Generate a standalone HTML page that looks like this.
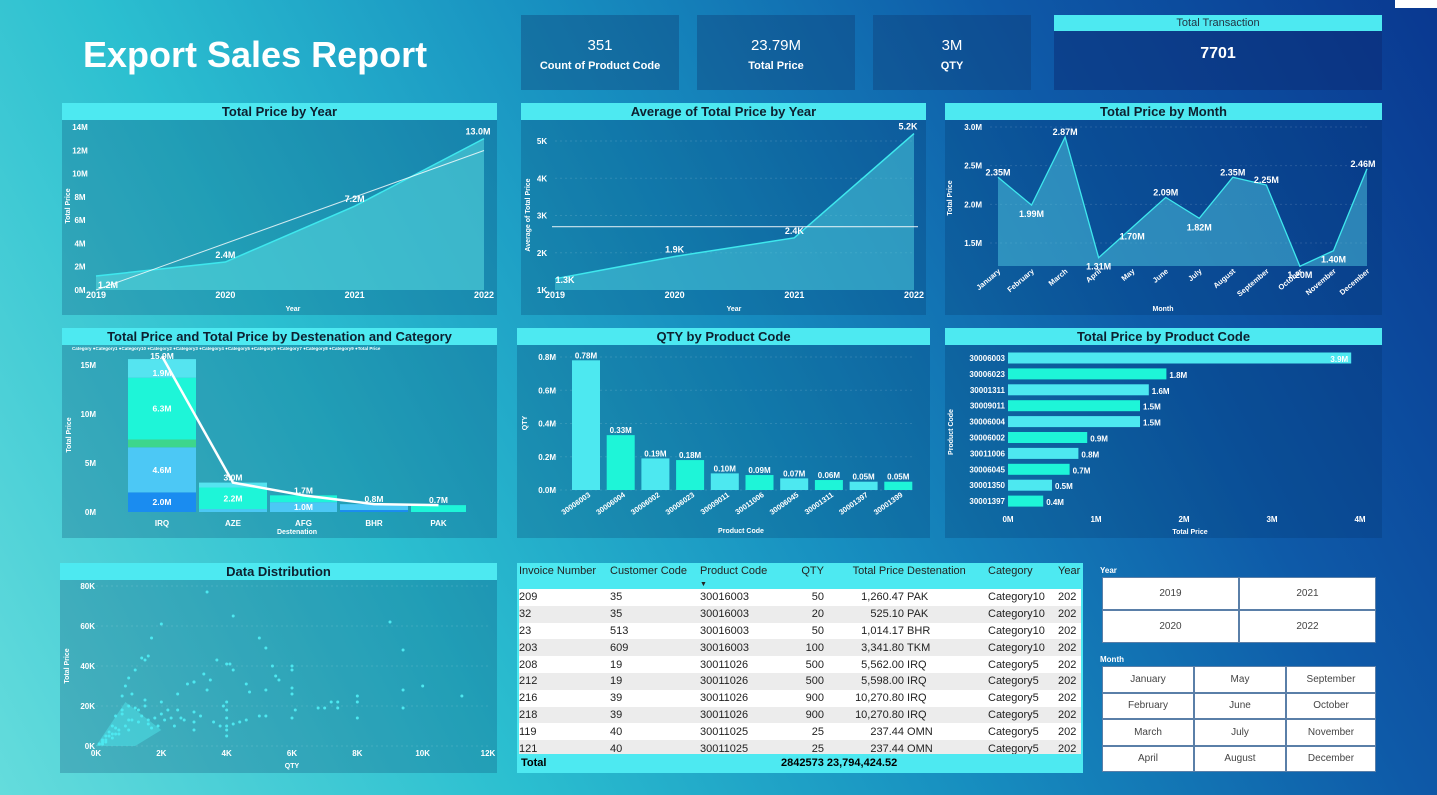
<!DOCTYPE html>
<html><head><meta charset="utf-8"><style>
*{margin:0;padding:0;box-sizing:border-box}
body{width:1437px;height:795px;overflow:hidden;position:relative;font-family:"Liberation Sans",sans-serif;
background:linear-gradient(62deg,#64dcdc 0%,#2bbfd0 28%,#178fc0 52%,#0e5aa8 76%,#0a3890 100%);}
.abs{position:absolute}
.panel{position:absolute;background:rgba(0,40,90,0.22)}
.ph{position:absolute;left:0;right:0;top:0;height:17px;background:#4de9f1;color:#0d2030;font-weight:bold;font-size:13px;text-align:center;line-height:17px}
.card{position:absolute;background:rgba(15,55,110,0.35);color:#fff;text-align:center}
.card .v{font-size:15px;margin-top:22px}
.card .l{font-size:11px;font-weight:bold;margin-top:6px}
svg{position:absolute;left:0;top:0;overflow:visible}
svg text{font-family:"Liberation Sans",sans-serif}
table{border-collapse:collapse;font-size:11px;color:#222;table-layout:fixed;white-space:nowrap}
td{overflow:hidden}
.slic{position:absolute;display:grid;background:#5a7fa8;gap:2px;padding:1px}
.slic div{background:#fff;color:#444;font-size:10px;display:flex;align-items:center;justify-content:center}
</style></head><body>
<div class="abs" style="left:1395px;top:0;width:42px;height:8px;background:#fff"></div>
<div class="abs" style="left:83px;top:34px;color:#fff;font-size:36px;font-weight:bold">Export Sales Report</div>

<div class="card" style="left:521px;top:15px;width:158px;height:75px"><div class="v">351</div><div class="l">Count of Product Code</div></div>
<div class="card" style="left:697px;top:15px;width:158px;height:75px"><div class="v">23.79M</div><div class="l">Total Price</div></div>
<div class="card" style="left:873px;top:15px;width:158px;height:75px"><div class="v">3M</div><div class="l">QTY</div></div>
<div class="card" style="left:1054px;top:15px;width:328px;height:75px;background:rgba(10,40,110,0.45)">
<div style="background:#4de9f1;color:#234;font-size:11px;height:16px;line-height:16px">Total Transaction</div>
<div style="font-size:16px;font-weight:bold;margin-top:14px">7701</div></div>

<div class="panel" style="left:62px;top:103px;width:435px;height:212px"><div class="ph">Total Price by Year</div></div>
<div class="panel" style="left:521px;top:103px;width:405px;height:212px"><div class="ph">Average of Total Price by Year</div></div>
<div class="panel" style="left:945px;top:103px;width:437px;height:212px"><div class="ph">Total Price by Month</div></div>
<div class="panel" style="left:62px;top:328px;width:435px;height:210px"><div class="ph">Total Price and Total Price by Destenation and Category</div></div>
<div class="panel" style="left:517px;top:328px;width:413px;height:210px"><div class="ph">QTY by Product Code</div></div>
<div class="panel" style="left:945px;top:328px;width:437px;height:210px"><div class="ph">Total Price by Product Code</div></div>
<div class="panel" style="left:60px;top:563px;width:437px;height:210px"><div class="ph">Data Distribution</div></div>

<div class="abs" style="left:517px;top:563px;width:566px;height:210px;background:#fff;overflow:hidden;border:2px solid #4de9f1">
<table style="width:582px">
<colgroup><col style="width:91px"><col style="width:90px"><col style="width:90px"><col style="width:34px"><col style="width:80px"><col style="width:84px"><col style="width:70px"><col style="width:43px"></colgroup>
<tr style="background:#4de9f1;height:21px;vertical-align:top"><td>Invoice Number</td><td>Customer Code</td><td>Product Code<br><span style="font-size:7px">▼</span></td><td style="text-align:right">QTY</td><td style="text-align:right">Total Price</td><td>&nbsp;Destenation</td><td>Category</td><td>Year</td></tr>
<tbody id="tb"></tbody>
</table>
<div style="position:absolute;left:0;top:189px;width:566px;height:18px;background:#4de9f1;font-size:11px;font-weight:bold;line-height:18px"><span style="margin-left:2px">Total</span><span style="position:absolute;left:262px">2842573 23,794,424.52</span></div>
</div>

<div class="abs" style="left:1100px;top:566px;color:#fff;font-size:8px;font-weight:bold">Year</div>
<div class="slic" style="left:1102px;top:577px;width:274px;height:66px;grid-template-columns:1fr 1fr">
<div>2019</div><div>2021</div><div>2020</div><div>2022</div></div>
<div class="abs" style="left:1100px;top:655px;color:#fff;font-size:8px;font-weight:bold">Month</div>
<div class="slic" style="left:1102px;top:666px;width:274px;height:106px;grid-template-columns:90px 90px 1fr">
<div>January</div><div>May</div><div>September</div>
<div>February</div><div>June</div><div>October</div>
<div>March</div><div>July</div><div>November</div>
<div>April</div><div>August</div><div>December</div></div>

<svg id="chart" width="1437" height="795"></svg>

<script>
// ---- data ----
const years = ['2019','2020','2021','2022'];
const yearTotals = [1.2, 2.4, 7.2, 13.0];
const yearTotalTicks = [0,2,4,6,8,10,12,14];
const yearAvg = [1.3, 1.9, 2.4, 5.2];
const yearAvgTicks = [1,2,3,4,5];
const yearAvgLine = 2.7;
const months = ['January','February','March','April','May','June','July','August','September','October','November','December'];
const monthTotals = [2.35,1.99,2.87,1.31,1.70,2.09,1.82,2.35,2.25,1.20,1.40,2.46];
const monthTicks = [1.5,2.0,2.5,3.0];
const destinations = ['IRQ','AZE','AFG','BHR','PAK'];
const destCategories = ['Category5','Category4','Category7','Category10','Category1'];
const destStackIRQ = [2.0, 4.6, 0.8, 6.3, 1.9];
const destStackAZE = [0.0, 0.3, 0.0, 2.2, 0.5];
const destStackAFG = [0.0, 1.0, 0.0, 0.7, 0.0];
const destStackBHR = [0.2, 0.6, 0.0, 0.0, 0.0];
const destStackPAK = [0.0, 0.0, 0.0, 0.7, 0.0];
const destTotals = [15.9, 3.0, 1.7, 0.8, 0.7];
const destTicks = [0,5,10,15];
const qtyCodes = ['30006003','30006004','30006002','30006023','30009011','30011006','30006045','30001311','30001397','30001399'];
const qtyValues = [0.78,0.33,0.19,0.18,0.10,0.09,0.07,0.06,0.05,0.05];
const qtyTicks = [0,0.2,0.4,0.6,0.8];
const priceCodes = ['30006003','30006023','30001311','30009011','30006004','30006002','30011006','30006045','30001350','30001397'];
const priceValues = [3.9,1.8,1.6,1.5,1.5,0.9,0.8,0.7,0.5,0.4];
const priceTicks = [0,1,2,3,4];
const scatterQty = [3.4,4.2,2.0,9.0,1.7,5.0,9.4,5.2,1.4,1.5,1.6,3.7,4.0,4.1,5.4,6.0,6.0,1.2,2.5,3.0,3.3,3.5,4.2,5.5,5.6,10.0,9.4,6.0,6.0,1.0,0.9,0.8,1.1,2.8,3.0,4.6,4.7,5.2,11.2,8.0,8.0,7.4,7.2,7.4,6.8,7.0,6.1,5.0,5.2,6.0,9.4,8.0,3.9,4.0,4.0,4.0,4.0,4.0,4.0,4.6,4.4,4.2,3.0,3.0,3.0,2.6,2.4,2.2,2.0,2.0,1.8,1.6,1.4,1.2,1.0,1.0,0.8,0.6,0.5,0.4,0.3,0.2,0.1,0.6,0.8,1.3,1.6,1.9,2.3,2.7,3.2,3.6,3.8,0.5,0.7,0.9,1.1,1.3,1.5,1.7,2.1,0.3,0.2,0.4,0.6,0.2,0.1,0.3,0.5,2.5,3.4,1.0,1.5,0.7];
const scatterPrice = [77,65,61,62,54,54,48,49,44,43,45,43,41,41,40,40,38,38,26,32,36,33,38,35,33,30,28,29,26,34,30,25,26,31,32,31,27,28,25,25,22,22,22,19,19,19,18,15,15,14,19,14,20,22,18,14,10,8,5,13,12,11,17,12,8,14,10,18,22,16,14,11,15,19,20,13,16,9,10,7,5,3,1,15,18,12,13,10,14,13,15,12,10,6,8,10,13,18,20,9,13,3,2,5,6,1,1,2,4,18,28,8,23,6];
const tableRows = [
['209','35','30016003','50','1,260.47','PAK','Category10','202'],
['32','35','30016003','20','525.10','PAK','Category10','202'],
['23','513','30016003','50','1,014.17','BHR','Category10','202'],
['203','609','30016003','100','3,341.80','TKM','Category10','202'],
['208','19','30011026','500','5,562.00','IRQ','Category5','202'],
['212','19','30011026','500','5,598.00','IRQ','Category5','202'],
['216','39','30011026','900','10,270.80','IRQ','Category5','202'],
['218','39','30011026','900','10,270.80','IRQ','Category5','202'],
['119','40','30011025','25','237.44','OMN','Category5','202'],
['121','40','30011025','25','237.44','OMN','Category5','202']];

// ---- table ----
const tb=document.getElementById('tb');
tableRows.forEach((r,i)=>{
 const tr=document.createElement('tr');
 
 
 tr.style.background=i%2?'#ececec':'#fff';tr.style.height='16.8px';
 r.forEach((c,j)=>{const td=document.createElement('td');td.textContent=(j==5?'\u00a0':'')+c;if(j==3||j==4)td.style.textAlign='right';tr.appendChild(td);});
 tb.appendChild(tr);
});

// ---- svg helpers ----
const S=document.getElementById('chart');const NS='http://www.w3.org/2000/svg';
function el(tag,attrs,name,txt){const e=document.createElementNS(NS,tag);for(const k in attrs)e.setAttribute(k,attrs[k]);
 
 
 if(txt!==undefined)e.textContent=txt;S.appendChild(e);return e;}
function txt(x,y,t,name,o={}){return el('text',Object.assign({x:x,y:y,fill:'#fff','font-size':o.fs||9,'font-weight':o.fw||'bold','text-anchor':o.a||'middle'},o.extra||{}),name,t);}
function lin(d0,d1,r0,r1){return v=>r0+(v-d0)/(d1-d0)*(r1-r0);}
function grid(x0,x1,y,name){el('line',{x1:x0,x2:x1,y1:y,y2:y,stroke:'rgba(255,255,255,0.12)','stroke-dasharray':'2,3'},name);}

// Chart 1: total price by year
(function(){
 const x=lin(0,3,96,484), y=lin(0,14,290,127);
 yearTotalTicks.forEach(t=>{txt(80,y(t)+3,t+'M','y-tick-label',{fs:8});});
 let d='M'+x(0)+','+y(0);yearTotals.forEach((v,i)=>d+=' L'+x(i)+','+y(v));d+=' L'+x(3)+','+y(0)+'Z';
 el('path',{d:d,fill:'rgba(90,220,225,0.55)'},'area-total-price');
 el('polyline',{points:yearTotals.map((v,i)=>x(i)+','+y(v)).join(' '),fill:'none',stroke:'#3ee8ee','stroke-width':1.5},'line-total-price');
 const n=yearTotals.length,mx=(n-1)/2,my=yearTotals.reduce((a,b)=>a+b)/n;let sxy=0,sxx=0;yearTotals.forEach((v,i)=>{sxy+=(i-mx)*(v-my);sxx+=(i-mx)*(i-mx);});
 const sl=sxy/sxx,ic=my-sl*mx;
 el('line',{x1:x(0),y1:y(Math.max(0,ic)),x2:x(3),y2:y(ic+sl*3),stroke:'rgba(255,255,255,0.8)','stroke-width':1},'trend-line');
 yearTotals.forEach((v,i)=>txt(x(i)+(i==0?12:i==3?-6:0),y(v)+(i==0?12:-4),v.toFixed(1)+'M','data-label',{fs:9}));
 years.forEach((t,i)=>txt(x(i),298,t,'x-tick-label',{fs:9}));
 txt(293,311,'Year','x-axis-title',{fs:7});
 txt(0,0,'Total Price','y-axis-title',{fs:7,extra:{transform:'translate(70,206) rotate(-90)'}});
})();

// Chart 2: average by year
(function(){
 const x=lin(0,3,555,914), y=lin(1,5,290,141);
 yearAvgTicks.forEach(t=>{if(t>1)grid(555,914,y(t),'grid-line');txt(542,y(t)+3,t+'K','y-tick-label',{fs:8});});
 let d='M'+x(0)+','+y(1);yearAvg.forEach((v,i)=>d+=' L'+x(i)+','+y(v));d+=' L'+x(3)+','+y(1)+'Z';
 el('path',{d:d,fill:'rgba(80,210,225,0.5)'},'area-average-price');
 el('polyline',{points:yearAvg.map((v,i)=>x(i)+','+y(v)).join(' '),fill:'none',stroke:'#3ee8ee','stroke-width':1.5},'line-average-price');
 el('line',{x1:552,x2:918,y1:y(yearAvgLine),y2:y(yearAvgLine),stroke:'rgba(255,255,255,0.8)','stroke-width':1.2},'average-line');
 yearAvg.forEach((v,i)=>txt(x(i)+(i==0?10:i==3?-6:0),y(v)+(i==0?-6+10:-4),v.toFixed(1)+'K','data-label',{fs:9}));
 years.forEach((t,i)=>txt(x(i),298,t,'x-tick-label',{fs:9}));
 txt(734,311,'Year','x-axis-title',{fs:7});
 txt(0,0,'Average of Total Price','y-axis-title',{fs:7,extra:{transform:'translate(530,215) rotate(-90)'}});
})();

// Chart 3: by month
(function(){
 const x=lin(0,11,998,1367), y=lin(1.5,3.0,243,127), base=266;
 monthTicks.forEach(t=>{grid(990,1370,y(t),'grid-line');txt(982,y(t)+3,t.toFixed(1)+'M','y-tick-label',{fs:8,a:'end'});});
 let d='M'+x(0)+','+base;monthTotals.forEach((v,i)=>d+=' L'+x(i)+','+y(v));d+=' L'+x(11)+','+base+'Z';
 el('path',{d:d,fill:'rgba(80,200,225,0.5)'},'area-month');
 el('polyline',{points:monthTotals.map((v,i)=>x(i)+','+y(v)).join(' '),fill:'none',stroke:'#3ee8ee','stroke-width':1.3},'line-month');
 monthTotals.forEach((v,i)=>{const up=[0,2,5,7,8,11].includes(i);txt(x(i)+(i==11?-4:0),y(v)+(up?-2:12),v.toFixed(2)+'M','data-label',{fs:9});});
 months.forEach((m,i)=>txt(0,0,m,'x-tick-label',{fs:7.5,a:'end',extra:{transform:'translate('+(x(i)+3)+',272) rotate(-40)'}}));
 txt(1163,311,'Month','x-axis-title',{fs:7});
 txt(0,0,'Total Price','y-axis-title',{fs:7,extra:{transform:'translate(952,198) rotate(-90)'}});
})();

// Chart 4: stacked by destination
(function(){
 const y=lin(0,15,512,365), xs=[128,199,270,340,411], bw=[68,68,67,68,55];
 const colors=['#1a8cf0','#4cc8f5','#3dd68c','#1ef5d8','#55e4f0'];
 const stacks=[destStackIRQ,destStackAZE,destStackAFG,destStackBHR,destStackPAK];
 txt(72,350,'Category \u25cfCategory1 \u25cfCategory10 \u25cfCategory2 \u25cfCategory3 \u25cfCategory4 \u25cfCategory5 \u25cfCategory6 \u25cfCategory7 \u25cfCategory8 \u25cfCategory9 \u25cfTotal Price','legend',{fs:4.5,a:'start'});
 destTicks.forEach(t=>txt(96,y(t)+3,t+'M','y-tick-label',{fs:8,a:'end'}));
 stacks.forEach((st,i)=>{let acc=0;st.forEach((v,k)=>{if(v<=0)return;el('rect',{x:xs[i],y:y(acc+v),width:bw[i],height:y(acc)-y(acc+v),fill:colors[k]},'bar-'+destinations[i].toLowerCase()+'-'+destCategories[k].toLowerCase());acc+=v;});
  txt(xs[i]+bw[i]/2,526,destinations[i],'x-tick-label',{fs:8});});
 [[0,0,'2.0M'],[0,1,'4.6M'],[0,3,'6.3M'],[1,3,'2.2M'],[2,1,'1.0M']].forEach(([i,k,l])=>{let a=0;for(let j=0;j<k;j++)a+=stacks[i][j];txt(xs[i]+bw[i]/2,y(a+stacks[i][k]/2)+3,l,'segment-label',{fs:8.5});});
 txt(xs[0]+bw[0]/2,376,'1.9M','segment-label',{fs:8.5});
 el('polyline',{points:destTotals.map((v,i)=>(xs[i]+bw[i]/2)+','+y(v)).join(' '),fill:'none',stroke:'#fff','stroke-width':2.5},'line-total-price');
 destTotals.forEach((v,i)=>txt(xs[i]+bw[i]/2,y(v)-(i==0?-3:2),v.toFixed(1)+'M','total-label',{fs:8.5}));
 txt(297,534,'Destenation','x-axis-title',{fs:7});
 txt(0,0,'Total Price','y-axis-title',{fs:7,extra:{transform:'translate(71,435) rotate(-90)'}});
})();

// Chart 5: QTY by product code
(function(){
 const y=lin(0,0.8,490,357), step=34.7, x0=572, bw=28;
 qtyTicks.forEach(t=>{grid(550,915,y(t),'grid-line');txt(556,y(t)+3,t.toFixed(1)+'M','y-tick-label',{fs:8,a:'end'});});
 qtyValues.forEach((v,i)=>{const x=x0+i*step;el('rect',{x:x,y:y(v),width:bw,height:y(0)-y(v),fill:i%2?'#1ef5d8':'#4de8f0'},'bar-'+qtyCodes[i]);
  txt(x+bw/2,y(v)-2,v.toFixed(2)+'M','data-label',{fs:8});
  txt(0,0,qtyCodes[i],'x-tick-label',{fs:7.5,a:'end',extra:{transform:'translate('+(x+bw/2+5)+',496) rotate(-35)'}});});
 txt(741,533,'Product Code','x-axis-title',{fs:7});
 txt(0,0,'QTY','y-axis-title',{fs:7,extra:{transform:'translate(527,423) rotate(-90)'}});
})();

// Chart 6: price by product code
(function(){
 const x=lin(0,4,1008,1360), y0=358, step=15.9, bh=11;
 priceTicks.forEach(t=>txt(x(t),522,t+'M','x-tick-label',{fs:8}));
 priceValues.forEach((v,i)=>{const yy=y0+i*step;el('rect',{x:x(0),y:yy-bh/2,width:x(v)-x(0),height:bh,fill:i%2?'#1ef5d8':'#4de8f0'},'bar-'+priceCodes[i]);
  txt(i==0?x(v)-3:x(v)+3,yy+4,v.toFixed(1)+'M','data-label',{fs:8,a:i==0?'end':'start'});
  txt(1005,yy+3,priceCodes[i],'y-tick-label',{fs:8,a:'end'});});
 txt(1190,534,'Total Price','x-axis-title',{fs:7});
 txt(0,0,'Product Code','y-axis-title',{fs:7,extra:{transform:'translate(953,432) rotate(-90)'}});
})();

// Chart 7: scatter
(function(){
 const x=lin(0,12,96,488), y=lin(0,80,746,586);
 [0,20,40,60,80].forEach(t=>{grid(96,490,y(t),'grid-line');txt(95,y(t)+3,t+'K','y-tick-label',{fs:8,a:'end'});});
 [0,2,4,6,8,10,12].forEach(t=>txt(x(t),756,t+'K','x-tick-label',{fs:8}));
 el('path',{d:'M'+x(0)+','+y(0)+' L'+x(0.9)+','+y(22)+' L'+x(2)+','+y(8)+' L'+x(1.2)+','+y(0)+'Z',fill:'rgba(80,235,240,0.45)'},'scatter-cluster');
 scatterQty.forEach((q,i)=>el('circle',{cx:x(q),cy:y(scatterPrice[i]),r:1.5,fill:'#4de8f0'},'scatter-point'));
 txt(292,768,'QTY','x-axis-title',{fs:7});
 txt(0,0,'Total Price','y-axis-title',{fs:7,extra:{transform:'translate(69,666) rotate(-90)'}});
})();
</script>
</body></html>
